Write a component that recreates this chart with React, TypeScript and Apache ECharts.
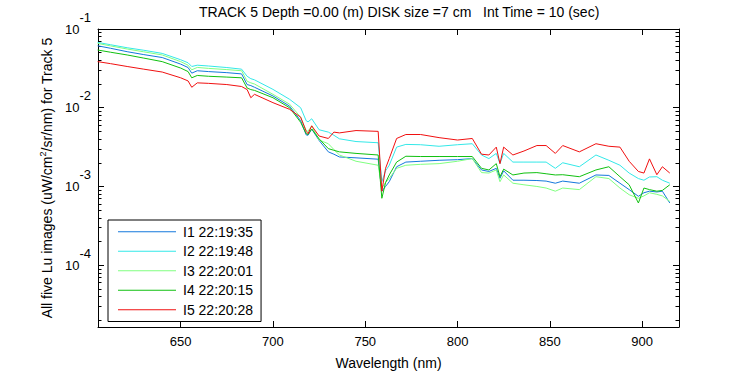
import React, { useEffect, useRef } from "react";
import * as echarts from "echarts";

const wavelengths = [605, 612, 621, 630, 640, 650, 654, 656, 659, 665, 675, 683, 686, 688, 690, 700, 709, 715, 718, 719, 721, 725, 730, 733, 736, 745, 757, 759, 761, 763, 767, 772, 780, 790, 800, 808, 813, 817, 821, 823, 825, 830, 836, 843, 848, 853, 857, 866, 875, 882, 888, 893, 898, 901, 904, 908, 911, 915];

const i1 = [0.0612, 0.0569, 0.0515, 0.0473, 0.0434, 0.0358, 0.0324, 0.0275, 0.0295, 0.0288, 0.0279, 0.0269, 0.0197, 0.0191, 0.0182, 0.0141, 0.0105, 0.00684, 0.00452, 0.00447, 0.00537, 0.00384, 0.00275, 0.00257, 0.00237, 0.00231, 0.00222, 0.000871, 0.001, 0.00115, 0.00178, 0.00204, 0.00209, 0.00215, 0.00219, 0.00226, 0.00162, 0.00155, 0.0017, 0.00127, 0.00158, 0.0012, 0.0012, 0.00119, 0.00117, 0.0011, 0.00117, 0.0011, 0.0014, 0.00138, 0.0011, 0.000912, 0.00075, 0.000832, 0.000871, 0.000851, 0.000871, 0.000617];
const i2 = [0.0676, 0.0631, 0.0578, 0.0537, 0.049, 0.0407, 0.0372, 0.0334, 0.0347, 0.0339, 0.0324, 0.0309, 0.0251, 0.0234, 0.0226, 0.0171, 0.0128, 0.01, 0.00684, 0.00661, 0.00724, 0.00525, 0.0049, 0.00447, 0.00403, 0.00372, 0.00359, 0.00115, 0.00158, 0.00186, 0.00316, 0.00342, 0.00339, 0.00324, 0.00339, 0.00349, 0.00251, 0.00226, 0.00263, 0.00195, 0.00263, 0.00204, 0.00204, 0.00204, 0.00204, 0.0017, 0.002, 0.00178, 0.00251, 0.00215, 0.00186, 0.00148, 0.00126, 0.0012, 0.00132, 0.00133, 0.0012, 0.0011];
const i3 = [0.0656, 0.061, 0.0557, 0.0513, 0.0468, 0.0385, 0.0347, 0.0303, 0.0325, 0.0316, 0.0305, 0.0295, 0.0217, 0.0207, 0.02, 0.0148, 0.0111, 0.00759, 0.00513, 0.00501, 0.00589, 0.00389, 0.00349, 0.00295, 0.00251, 0.00209, 0.00186, 0.000955, 0.00112, 0.00127, 0.0017, 0.00186, 0.00191, 0.00195, 0.00209, 0.00226, 0.0015, 0.00148, 0.00162, 0.00115, 0.0014, 0.0011, 0.00105, 0.001, 0.000955, 0.000871, 0.000955, 0.000912, 0.00133, 0.00126, 0.000955, 0.000785, 0.000708, 0.000759, 0.000832, 0.000794, 0.000759, 0.000646];
const i4 = [0.0541, 0.0507, 0.0468, 0.0427, 0.0385, 0.0319, 0.0288, 0.024, 0.0257, 0.0251, 0.0245, 0.024, 0.0178, 0.017, 0.0166, 0.0134, 0.01, 0.00653, 0.00468, 0.00457, 0.00537, 0.00403, 0.00302, 0.00288, 0.00275, 0.00263, 0.00251, 0.000708, 0.00112, 0.0014, 0.00204, 0.00242, 0.0024, 0.0024, 0.0024, 0.0024, 0.0017, 0.00162, 0.00195, 0.00133, 0.00166, 0.0014, 0.00148, 0.0015, 0.00145, 0.0014, 0.00141, 0.00133, 0.00162, 0.00178, 0.00133, 0.00105, 0.000617, 0.000955, 0.000912, 0.000871, 0.000891, 0.00105];
const i5 = [0.0385, 0.0363, 0.0334, 0.0309, 0.0284, 0.024, 0.0219, 0.0182, 0.0207, 0.0204, 0.0197, 0.0186, 0.017, 0.0134, 0.0148, 0.0116, 0.00955, 0.00759, 0.00501, 0.00468, 0.00589, 0.00437, 0.00407, 0.0049, 0.00479, 0.00513, 0.00501, 0.00087, 0.0017, 0.00226, 0.00407, 0.00457, 0.00457, 0.00417, 0.00389, 0.00407, 0.00257, 0.00251, 0.00316, 0.00195, 0.00316, 0.00251, 0.00282, 0.00331, 0.00331, 0.00263, 0.00331, 0.00275, 0.00349, 0.00324, 0.00316, 0.00209, 0.00155, 0.00148, 0.00224, 0.00141, 0.00178, 0.00148];

const seriesNames = ["I1 22:19:35", "I2 22:19:48", "I3 22:20:01", "I4 22:20:15", "I5 22:20:28"];
const seriesColors = ["#1478DC", "#33E8E8", "#80FF80", "#10C010", "#F01010"];
const seriesValues = [i1, i2, i3, i4, i5];

const xTicks = [650, 700, 750, 800, 850, 900];
const yMajorExponents = [-4, -3, -2, -1];

const X_MIN = 605.2;
const X_MAX = 920;
const Y_MIN = -4.785;
const Y_MAX = -1;

const FONT = "'Liberation Sans', Arial, sans-serif";

export default function App() {
  const ref = useRef<HTMLDivElement>(null);

  useEffect(() => {
    if (!ref.current) return;
    const chart = echarts.init(ref.current, null, { renderer: "svg" });

    const minor: number[] = [];
    for (let n = -5; n <= -2; n++) {
      for (let k = 2; k <= 9; k++) {
        const v = n + Math.log10(k);
        if (v > Y_MIN && v < Y_MAX) minor.push(v);
      }
    }

    const axisLine = { show: true, lineStyle: { color: "#000", width: 1 } };

    const series = seriesValues.map((vals, si) => ({
      name: seriesNames[si],
      type: "line",
      xAxisIndex: 0,
      yAxisIndex: 0,
      showSymbol: false,
      symbol: "none",
      color: seriesColors[si],
      lineStyle: { width: 1, color: seriesColors[si] },
      itemStyle: { color: seriesColors[si] },
      data: wavelengths.map((w, i) => [w, Math.log10(vals[i])]),
    }));

    chart.setOption({
      animation: false,
      backgroundColor: "#fff",
      color: seriesColors,
      textStyle: { fontFamily: FONT },
      title: {
        text: "TRACK 5 Depth =0.00 (m) DISK size =7 cm   Int Time = 10 (sec)",
        left: 199,
        top: 5,
        padding: 0,
        textStyle: { fontSize: 14, fontWeight: "normal", color: "#000", fontFamily: FONT },
      },
      grid: { left: 98, top: 29, width: 581, height: 302 },
      legend: {
        orient: "vertical",
        left: 108,
        top: 220,
        padding: [2, 8, 2, 10],
        itemGap: 0,
        itemWidth: 58,
        itemHeight: 1,
        icon: "rect",
        borderColor: "#000",
        borderWidth: 1,
        borderRadius: 0,
        backgroundColor: "#fff",
        data: seriesNames,
        textStyle: { fontSize: 14, color: "#000", fontFamily: FONT, lineHeight: 19.5, padding: [0, 0, 0, 2] },
      },
      xAxis: [
        {
          type: "value",
          min: X_MIN,
          max: X_MAX,
          position: "bottom",
          axisLine,
          axisTick: { show: true, inside: true, length: 6, customValues: xTicks, lineStyle: { color: "#000" } },
          axisLabel: { customValues: xTicks, fontSize: 13, color: "#000", margin: 8, fontFamily: FONT },
          splitLine: { show: false },
          name: "Wavelength (nm)",
          nameLocation: "middle",
          nameGap: 29,
          nameTextStyle: { fontSize: 14, color: "#000", fontFamily: FONT },
        },
        {
          type: "value",
          min: X_MIN,
          max: X_MAX,
          position: "top",
          axisLine,
          axisTick: { show: true, inside: true, length: 6, customValues: xTicks, lineStyle: { color: "#000" } },
          axisLabel: { show: false },
          splitLine: { show: false },
        },
      ],
      yAxis: [
        {
          type: "value",
          min: Y_MIN,
          max: Y_MAX,
          position: "left",
          axisLine,
          axisTick: { show: true, inside: true, length: 6, customValues: yMajorExponents, lineStyle: { color: "#000" } },
          axisLabel: {
            customValues: yMajorExponents,
            margin: 7,
            formatter: (v: number) => `{a|10}{b|${v}}`,
            rich: {
              a: { fontSize: 13, color: "#000", fontFamily: FONT },
              b: { fontSize: 13, color: "#000", fontFamily: FONT, padding: [0, 0, 24, 0] },
            },
          },
          splitLine: { show: false },
          name: "All five Lu images (uW/cm{s|2}/sr/nm) for Track 5",
          nameLocation: "middle",
          nameGap: 33,
          nameTextStyle: {
            fontSize: 14,
            color: "#000",
            fontFamily: FONT,
            rich: {
              s: { fontSize: 9, color: "#000", fontFamily: FONT, padding: [0, 0, 8, 0] },
            },
          },
        },
        {
          type: "value",
          min: Y_MIN,
          max: Y_MAX,
          position: "left",
          axisLine: { show: false },
          axisTick: { show: true, inside: true, length: 3.5, customValues: minor, lineStyle: { color: "#000" } },
          axisLabel: { show: false },
          splitLine: { show: false },
        },
        {
          type: "value",
          min: Y_MIN,
          max: Y_MAX,
          position: "right",
          axisLine,
          axisTick: { show: true, inside: true, length: 6, customValues: yMajorExponents, lineStyle: { color: "#000" } },
          axisLabel: { show: false },
          splitLine: { show: false },
        },
        {
          type: "value",
          min: Y_MIN,
          max: Y_MAX,
          position: "right",
          axisLine: { show: false },
          axisTick: { show: true, inside: true, length: 3.5, customValues: minor, lineStyle: { color: "#000" } },
          axisLabel: { show: false },
          splitLine: { show: false },
        },
      ],
      series,
    });

    return () => chart.dispose();
  }, []);

  return (
    <div
      ref={ref}
      style={{ position: "fixed", left: 0, top: 0, width: 750, height: 375, background: "#fff" }}
    />
  );
}
